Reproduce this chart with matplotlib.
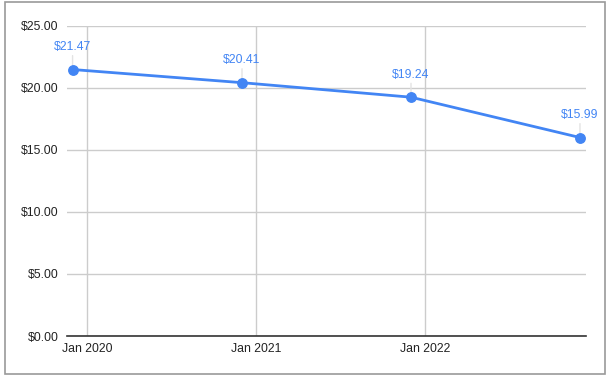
import matplotlib
matplotlib.use("Agg")
import matplotlib.pyplot as plt
from matplotlib.patches import Rectangle
from matplotlib.ticker import FuncFormatter
import datetime as dt

plt.rcParams['font.family'] = ['Liberation Sans', 'DejaVu Sans']

dates = [dt.date(2019, 12, 1), dt.date(2020, 12, 1), dt.date(2021, 12, 1), dt.date(2022, 12, 1)]
prices = [21.47, 20.41, 19.24, 15.99]
price_labels = ["$21.47", "$20.41", "$19.24", "$15.99"]
xtick_dates = [dt.date(2020, 1, 1), dt.date(2021, 1, 1), dt.date(2022, 1, 1)]
xtick_labels = ["Jan 2020", "Jan 2021", "Jan 2022"]
yticks = [0, 5, 10, 15, 20, 25]

W, H = 611, 379
fig = plt.figure(figsize=(W / 100, H / 100), dpi=100)
fig.patch.set_facecolor('white')

# outer border
fig.patches.append(Rectangle((4.5 / W, 1 - 373.5 / H), (605 - 4.5) / W, (373.5 - 1.5) / H,
                             transform=fig.transFigure, fill=False, edgecolor='#9a9a9a',
                             linewidth=1.2, zorder=0))

ax = fig.add_axes([67 / W, 1 - 336 / H, (586 - 67) / W, (336 - 25.7) / H])
blue = '#4285F4'
ax.plot(dates, prices, color=blue, linewidth=2, marker='o', markersize=6.8, zorder=5,
        clip_on=False)

for d, p, lab in zip(dates, prices, price_labels):
    ax.annotate('', xy=(d, p), xytext=(0, 10), textcoords='offset points',
                arrowprops=dict(arrowstyle='-', color='#e3e3e3', lw=1, shrinkA=0, shrinkB=0),
                zorder=4)
    ax.annotate(lab, xy=(d, p), xytext=(0, 12), textcoords='offset points',
                ha='center', va='bottom', color=blue, fontsize=8.8, zorder=6)

ax.set_xlim(dt.date(2019, 11, 19), dt.date(2022, 12, 14))
ax.set_ylim(0, 25)
ax.set_xticks(xtick_dates)
ax.set_xticklabels(xtick_labels)
ax.set_yticks(yticks)
ax.yaxis.set_major_formatter(FuncFormatter(lambda v, pos: f"${v:.2f}"))

ax.grid(True, color='#cccccc', linewidth=1)
ax.set_axisbelow(True)
for s in ['left', 'right', 'top']:
    ax.spines[s].set_visible(False)
ax.spines['bottom'].set_color('#333333')
ax.spines['bottom'].set_linewidth(1.2)
ax.spines['bottom'].set_zorder(3)
ax.tick_params(axis='both', length=0, labelsize=8.8, labelcolor='#222222')
ax.tick_params(axis='y', pad=6)
ax.tick_params(axis='x', pad=5)

fig.savefig('out.png', dpi=100, facecolor='white')
